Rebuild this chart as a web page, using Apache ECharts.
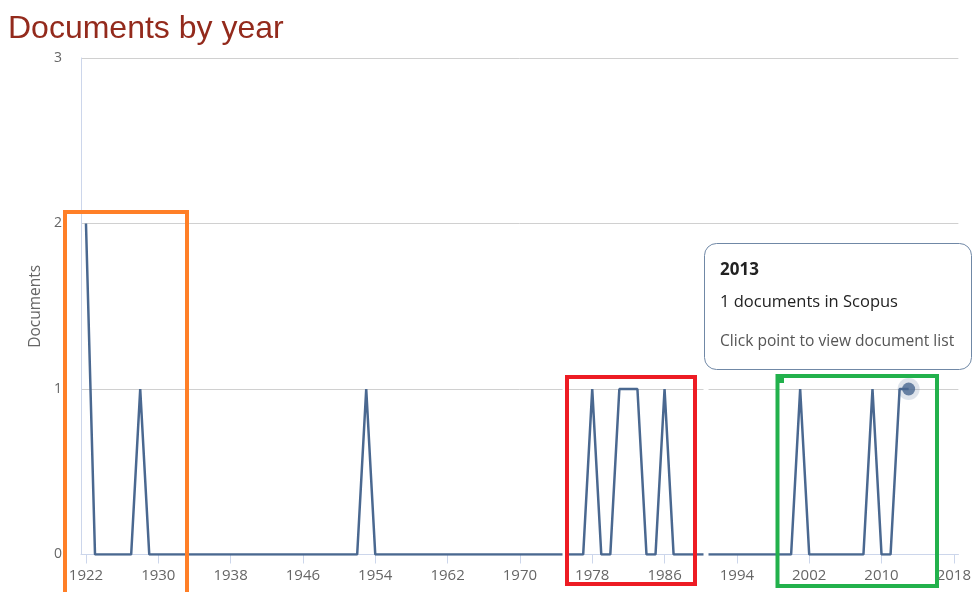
<!DOCTYPE html>
<html>
<head>
<meta charset="utf-8">
<script src="https://cdn.jsdelivr.net/npm/echarts@6/dist/echarts.min.js"></script>
<style>
  html, body { margin: 0; padding: 0; background: #fff; }
  #chart { width: 974px; height: 592px; }
</style>
</head>
<body>
<div id="chart"></div>
<script>
// documents per year
var years = [
  1922, 1923, 1924, 1925, 1926, 1927, 1928, 1929, 1930, 1931,
  1932, 1933, 1934, 1935, 1936, 1937, 1938, 1939, 1940, 1941,
  1942, 1943, 1944, 1945, 1946, 1947, 1948, 1949, 1950, 1951,
  1952, 1953, 1954, 1955, 1956, 1957, 1958, 1959, 1960, 1961,
  1962, 1963, 1964, 1965, 1966, 1967, 1968, 1969, 1970, 1971,
  1972, 1973, 1974, 1975, 1976, 1977, 1978, 1979, 1980, 1981,
  1982, 1983, 1984, 1985, 1986, 1987, 1988, 1989, 1990, 1991,
  1992, 1993, 1994, 1995, 1996, 1997, 1998, 1999, 2000, 2001,
  2002, 2003, 2004, 2005, 2006, 2007, 2008, 2009, 2010, 2011,
  2012, 2013
]
var counts = [
  2, 0, 0, 0, 0, 0, 1, 0, 0, 0,
  0, 0, 0, 0, 0, 0, 0, 0, 0, 0,
  0, 0, 0, 0, 0, 0, 0, 0, 0, 0,
  0, 1, 0, 0, 0, 0, 0, 0, 0, 0,
  0, 0, 0, 0, 0, 0, 0, 0, 0, 0,
  0, 0, 0, 0, 0, 0, 1, 0, 0, 1,
  1, 1, 0, 0, 1, 0, 0, 0, 0, 0,
  0, 0, 0, 0, 0, 0, 0, 0, 0, 1,
  0, 0, 0, 0, 0, 0, 0, 1, 0, 0,
  1, 1
]
var xTicks = [1922, 1930, 1938, 1946, 1954, 1962, 1970, 1978, 1986, 1994, 2002, 2010, 2018]

// hovered point + tooltip text
var hoverYear = 2013
var hoverCount = 1
var tipLines = ['2013', '1 documents in Scopus', 'Click point to view document list']

var lineColor = '#4a6890'
var font = '"Open Sans", "Noto Sans", sans-serif'

var chart = echarts.init(document.getElementById('chart'))

var seriesData = years.map(function(y, i) {
  return [y, counts[i]]
})

// boxes drawn over the chart
function box(x1, y1, x2, y2, color) {
  return {
    type: 'rect',
    z: 100,
    shape: { x: x1, y: y1, width: x2 - x1, height: y2 - y1 },
    style: { fill: 'none', stroke: color, lineWidth: 4 }
  }
}

function whiteStrip(x1, x2) {
  return {
    type: 'rect',
    z: 90,
    shape: { x: x1, y: 376, width: x2 - x1, height: 186 },
    style: { fill: '#fff' }
  }
}

function tipText(y, text, f, color) {
  return {
    type: 'text',
    z: 111,
    style: { x: 720, y: y, text: text, verticalAlign: 'middle', font: f, fill: color }
  }
}

var option = {
  animation: false,
  title: {
    text: 'Documents by year',
    left: 3,
    top: 8,
    textStyle: {
      color: '#932a1c',
      fontSize: 32,
      fontWeight: 'normal',
      fontFamily: '"Liberation Sans", Arial, sans-serif'
    }
  },
  grid: { left: 81, right: 11, top: 58, bottom: 37.5, containLabel: false },
  xAxis: {
    type: 'value',
    min: 1921.45,
    max: 2018.5,
    splitLine: { show: false },
    axisLine: { show: true, onZero: false, lineStyle: { color: '#ccd6eb', width: 1 } },
    axisTick: {
      show: true,
      length: 9,
      customValues: xTicks,
      lineStyle: { color: '#ccd6eb' }
    },
    axisLabel: {
      customValues: xTicks,
      color: '#666',
      fontSize: 15,
      fontFamily: font,
      margin: 14,
      formatter: function(v) { return String(v) }
    }
  },
  yAxis: {
    type: 'value',
    min: 0,
    max: 3,
    interval: 1,
    name: 'Documents',
    nameLocation: 'middle',
    nameGap: 36,
    nameRotate: 90,
    nameTextStyle: { color: '#666', fontSize: 15.5, fontFamily: font },
    axisLine: { show: true, lineStyle: { color: '#ccd6eb' } },
    axisTick: { show: false },
    splitLine: { lineStyle: { color: '#d0d0d0' } },
    axisLabel: {
      color: '#666',
      fontSize: 14,
      fontFamily: font,
      margin: 19
    }
  },
  series: [
    {
      type: 'line',
      data: seriesData,
      showSymbol: false,
      lineStyle: { color: lineColor, width: 2.5 },
      z: 3
    },
    {
      type: 'scatter',
      data: [[hoverYear, hoverCount]],
      symbolSize: 22,
      itemStyle: { color: 'rgba(74,104,144,0.22)' },
      z: 4
    },
    {
      type: 'scatter',
      data: [[hoverYear, hoverCount]],
      symbolSize: 13,
      itemStyle: { color: lineColor },
      z: 5
    }
  ],
  graphic: [
    whiteStrip(562.5, 565),
    whiteStrip(703.5, 708.5),
    box(65, 212, 187, 620, '#ff7f27'),
    box(567, 377, 695, 584, '#ed1c24'),
    box(777.5, 376, 937, 586, '#22b14c'),
    {
      type: 'rect',
      z: 101,
      shape: { x: 779, y: 378, width: 5, height: 5 },
      style: { fill: '#22b14c' }
    },
    {
      type: 'rect',
      z: 110,
      shape: { x: 704.5, y: 243.5, width: 267, height: 126, r: 12 },
      style: { fill: '#fff', stroke: '#7088a6', lineWidth: 1 }
    },
    tipText(270, tipLines[0], 'bold 17px ' + font, '#222'),
    tipText(302, tipLines[1], '16.5px ' + font, '#222'),
    tipText(342, tipLines[2], '15.6px ' + font, '#555')
  ]
}

chart.setOption(option)
</script>
</body>
</html>
